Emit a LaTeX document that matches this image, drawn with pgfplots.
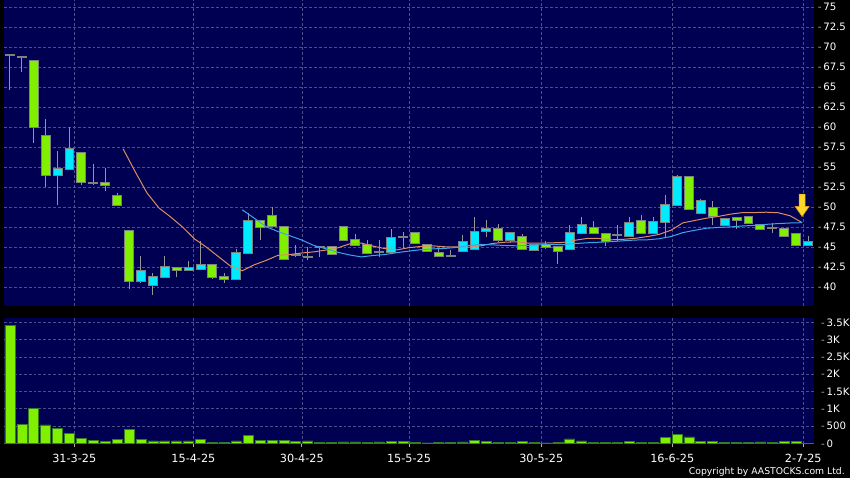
\documentclass[border=0pt]{standalone}
\usepackage{fontspec}
\setmainfont{DejaVu Sans}
\usepackage{pgfplots}
\pgfplotsset{compat=1.18}
\usepackage{pgfplotstable}

\definecolor{navy}{RGB}{0,0,82}
\definecolor{gridc}{RGB}{78,78,140}
\definecolor{upc}{RGB}{0,235,255}
\definecolor{downc}{RGB}{128,240,0}
\definecolor{edgec}{RGB}{125,130,125}
\definecolor{wickc}{RGB}{150,150,150}
\definecolor{voledge}{RGB}{50,125,35}
\definecolor{maten}{RGB}{222,140,100}
\definecolor{matwenty}{RGB}{60,165,230}
\definecolor{dashc}{RGB}{175,175,175}
\definecolor{arrowy}{RGB}{255,215,40}
\definecolor{arrowo}{RGB}{215,150,20}

\newcommand\tickfont{\fontsize{8.7}{10}\selectfont}
\newcommand\tickdash{\textcolor{dashc}{-}\,}

% down arrow used as a plot mark
\pgfdeclareplotmark{downarrow}{%
  \pgfpathmoveto{\pgfpoint{-2.55pt}{9.35pt}}%
  \pgfpathlineto{\pgfpoint{2.55pt}{9.35pt}}%
  \pgfpathlineto{\pgfpoint{2.55pt}{-1.3pt}}%
  \pgfpathlineto{\pgfpoint{5.95pt}{-1.3pt}}%
  \pgfpathlineto{\pgfpoint{0pt}{-9.8pt}}%
  \pgfpathlineto{\pgfpoint{-5.95pt}{-1.3pt}}%
  \pgfpathlineto{\pgfpoint{-2.55pt}{-1.3pt}}%
  \pgfpathclose
  \pgfusepathqfillstroke}

% candles: index, open, high, low, close
\pgfplotstableread{
i o h l c
4 54.0 57.0 50.2 54.7
5 54.7 60.0 54.7 57.2
11 40.8 43.9 40.5 42.0
12 40.3 41.8 39.0 41.2
13 41.2 43.9 41.2 42.5
15 42.1 43.25 42.1 42.4
16 42.3 45.75 42.3 42.8
19 41.0 44.7 41.0 44.2
20 44.2 49.2 44.2 48.2
32 44.4 47.3 44.2 46.1
38 44.5 46.5 44.5 45.6
39 44.8 48.7 44.8 46.9
40 47.0 48.4 46.3 47.3
42 45.9 46.7 45.6 46.7
44 44.6 45.3 44.6 45.3
47 44.8 47.75 44.8 46.7
48 46.8 48.8 46.8 47.8
52 46.4 48.7 46.4 48.0
54 46.7 48.8 46.7 48.1
55 48.1 51.5 46.3 50.2
56 50.3 54.0 50.3 53.7
58 49.3 51.0 49.3 50.7
60 47.8 48.5 47.8 48.5
67 45.2 46.4 45.2 45.6
}\up

\pgfplotstableread{
i o h l c
2 68.3 68.3 58.0 60.0
3 58.9 61.0 52.5 54.0
6 56.7 56.7 52.7 53.1
8 53.0 54.9 52.0 52.7
9 51.4 51.7 50.1 50.2
10 47.0 47.0 39.7 40.8
14 42.4 42.4 41.2 42.1
17 42.7 42.7 41.0 41.3
18 41.3 41.75 40.5 41.0
21 48.2 48.2 45.9 47.5
22 48.9 50.0 47.6 47.6
23 47.5 47.5 43.4 43.5
27 45.0 45.0 44.1 44.1
28 47.5 47.5 45.9 45.9
29 45.9 46.6 45.1 45.3
30 45.3 45.9 44.3 44.3
34 46.8 46.8 45.5 45.5
35 45.25 45.25 44.5 44.5
36 44.3 44.7 43.9 43.9
41 47.3 47.9 45.6 45.9
43 46.2 46.6 44.7 44.7
45 45.3 45.7 44.8 45.0
46 45.0 45.0 42.9 44.5
49 47.4 48.25 46.7 46.7
50 46.6 46.6 45.1 45.7
53 48.2 49.0 46.8 46.8
57 53.7 53.7 49.7 49.7
59 49.9 50.75 47.8 48.9
61 48.6 48.8 47.3 48.4
62 48.8 48.8 48.0 48.0
63 47.7 47.7 47.3 47.3
65 47.3 47.3 46.4 46.4
66 46.6 46.6 45.2 45.2
}\down

\pgfplotstableread{
i o h l c
0 69.0 69.1 64.6 69.0
1 68.8 68.9 66.9 68.8
7 53.0 55.4 52.7 53.0
24 44.0 45.3 43.8 44.0
25 43.8 45.0 43.4 43.8
26 45.0 45.1 43.75 45.0
31 44.4 45.9 43.7 44.4
33 46.3 46.9 44.8 46.3
37 43.9 44.6 43.9 43.9
51 46.5 47.75 45.7 46.5
64 47.4 48.0 46.8 47.4
}\flat

\pgfplotstableread{
x y
9.5 57.27
10.5 54.45
11.5 51.77
12.5 49.89
13.5 48.74
14.5 47.48
15.5 46.00
16.5 44.97
17.5 43.80
18.5 42.63
19.5 42.03
20.5 42.77
21.5 43.32
22.5 43.96
23.5 44.06
24.5 44.25
25.5 44.39
26.5 44.61
27.5 44.89
28.5 45.38
29.5 45.49
30.5 45.10
31.5 44.79
32.5 44.64
33.5 44.92
34.5 45.07
35.5 45.14
36.5 45.03
37.5 45.01
38.5 44.98
39.5 45.14
40.5 45.44
41.5 45.59
42.5 45.65
43.5 45.49
44.5 45.47
45.5 45.52
46.5 45.58
47.5 45.86
48.5 46.08
49.5 46.06
50.5 45.90
51.5 45.96
52.5 46.09
53.5 46.30
54.5 46.58
55.5 47.10
56.5 48.02
57.5 48.32
58.5 48.61
59.5 48.83
60.5 49.11
61.5 49.30
62.5 49.30
63.5 49.35
64.5 49.28
65.5 48.90
66.5 48.05
}\maten

\pgfplotstableread{
x y
19.5 49.65
20.5 48.61
21.5 47.55
22.5 46.93
23.5 46.40
24.5 45.87
25.5 45.20
26.5 44.79
27.5 44.35
28.5 44.01
29.5 43.76
30.5 43.94
31.5 44.06
32.5 44.30
33.5 44.49
34.5 44.66
35.5 44.77
36.5 44.82
37.5 44.95
38.5 45.18
39.5 45.32
40.5 45.27
41.5 45.19
42.5 45.15
43.5 45.21
44.5 45.27
45.5 45.33
46.5 45.31
47.5 45.44
48.5 45.53
49.5 45.60
50.5 45.67
51.5 45.78
52.5 45.87
53.5 45.90
54.5 46.03
55.5 46.31
56.5 46.80
57.5 47.09
58.5 47.35
59.5 47.45
60.5 47.51
61.5 47.63
62.5 47.70
63.5 47.83
64.5 47.93
65.5 48.00
66.5 48.04
}\matwenty

\pgfplotstableread{
i v
0 3420
1 540
2 1000
3 530
4 430
5 290
6 145
7 87
8 58
9 104
10 404
11 116
12 67
13 67
14 67
15 67
16 116
17 29
18 29
19 67
20 240
21 87
22 87
23 87
24 48
25 67
26 15
27 15
28 38
29 38
30 20
31 38
32 48
33 48
34 25
35 10
36 25
37 25
38 38
39 87
40 48
41 25
42 20
43 58
44 25
45 10
46 25
47 125
48 67
49 20
50 20
51 25
52 58
53 25
54 25
55 164
56 260
57 183
58 48
59 58
60 25
61 25
62 20
63 38
64 25
65 48
66 48
67 0
}\vol

\pgfplotsset{
  panel/.style={
    scale only axis, width=24.3cm,
    xmin=-0.5, xmax=67.5,
    axis background/.style={fill=navy},
    axis line style={draw=none},
    grid=major,
    major grid style={draw=gridc, dash pattern=on 2.5pt off 1.7pt, line width=0.5pt},
    xtick={5.4,15.4,24.5,33.5,44.6,55.6,66.6},
    ytick pos=right, yticklabel pos=right,
    y tick style={draw=none},
    yticklabel style={anchor=west, inner sep=0pt, xshift=0.11cm, text=white, font=\tickfont},
    /pgf/number format/assume math mode=true,
  },
  wick/.style={draw=none, forget plot, error bars/.cd, y dir=both, y explicit,
    error mark=none, error bar style={draw=wickc, line width=0.85pt}},
  body/.style={draw=none, forget plot, error bars/.cd, y dir=both, y explicit,
    error mark=none, error bar style={draw=#1, line width=6.8pt}},
  edge/.style={draw=none, forget plot, error bars/.cd, y dir=both, y explicit,
    error mark=none, error bar style={draw=edgec, line width=8.5pt}},
}

\begin{document}
\begin{tikzpicture}
\fill[black] (0,0) rectangle (25.5cm,14.34cm);

\begin{axis}[panel,
  at={(0.12cm,14.34cm)}, anchor=north west, height=9.18cm,
  ymin=37.625, ymax=75.875,
  ytick={40,42.5,45,47.5,50,52.5,55,57.5,60,62.5,65,67.5,70,72.5,75},
  yticklabel={\tickdash\pgfmathprintnumber{\tick}},
  xticklabels={}, x tick style={draw=none},
]
% wicks
\addplot[wick] table[x=i, y=c, y error plus expr=\thisrow{h}-\thisrow{c}, y error minus expr=\thisrow{c}-\thisrow{l}] {\up};
\addplot[wick] table[x=i, y=c, y error plus expr=\thisrow{h}-\thisrow{c}, y error minus expr=\thisrow{c}-\thisrow{l}] {\down};
\addplot[wick] table[x=i, y=c, y error plus expr=\thisrow{h}-\thisrow{c}, y error minus expr=\thisrow{c}-\thisrow{l}] {\flat};
% body outlines
\addplot[edge] table[x=i, y expr=(\thisrow{o}+\thisrow{c})/2, y error expr=(\thisrow{c}-\thisrow{o})/2+0.125] {\up};
\addplot[edge] table[x=i, y expr=(\thisrow{o}+\thisrow{c})/2, y error expr=(\thisrow{o}-\thisrow{c})/2+0.125] {\down};
\addplot[edge] table[x=i, y=c, y error expr=0.125] {\flat};
% bodies
\addplot[body=upc] table[x=i, y expr=(\thisrow{o}+\thisrow{c})/2, y error expr=(\thisrow{c}-\thisrow{o})/2] {\up};
\addplot[body=downc] table[x=i, y expr=(\thisrow{o}+\thisrow{c})/2, y error expr=(\thisrow{o}-\thisrow{c})/2] {\down};
% moving averages
\addplot[maten, line width=0.85pt] table[x=x, y=y] {\maten};
\addplot[matwenty, line width=0.85pt] table[x=x, y=y] {\matwenty};
% marker arrow
\addplot[only marks, mark=downarrow, mark options={fill=arrowy, draw=arrowo, line width=0.5pt}] coordinates {(66.5,50.25)};
\end{axis}

\begin{axis}[panel,
  at={(0.12cm,1.02cm)}, anchor=south west, height=3.78cm,
  ymin=-20, ymax=3625,
  ytick={0,500,1000,1500,2000,2500,3000,3500},
  yticklabels={\tickdash 0,\tickdash 500,\tickdash 1K,\tickdash 1.5K,\tickdash 2K,\tickdash 2.5K,\tickdash 3K,\tickdash 3.5K},
  xticklabels={31-3-25,15-4-25,30-4-25,15-5-25,30-5-25,16-6-25,2-7-25},
  xtick pos=bottom, tick align=outside, major tick length=0.1cm,
  x tick style={draw=dashc, line width=0.6pt},
  xticklabel style={anchor=north, inner sep=0pt, yshift=-0.2cm, text=white, font=\fontsize{9.6}{11}\selectfont},
]
\addplot[ybar, bar width=0.84, fill=downc, draw=voledge, line width=0.6pt] table[x=i, y=v] {\vol};
\end{axis}

\node[anchor=base east, inner sep=0pt, text=white, font=\fontsize{7.9}{9}\selectfont] at (25.35cm,0.12cm) {Copyright by AASTOCKS.com Ltd.};

\pgfresetboundingbox
\path[use as bounding box] (0,0) rectangle (25.5cm,14.34cm);
\end{tikzpicture}
\end{document}
